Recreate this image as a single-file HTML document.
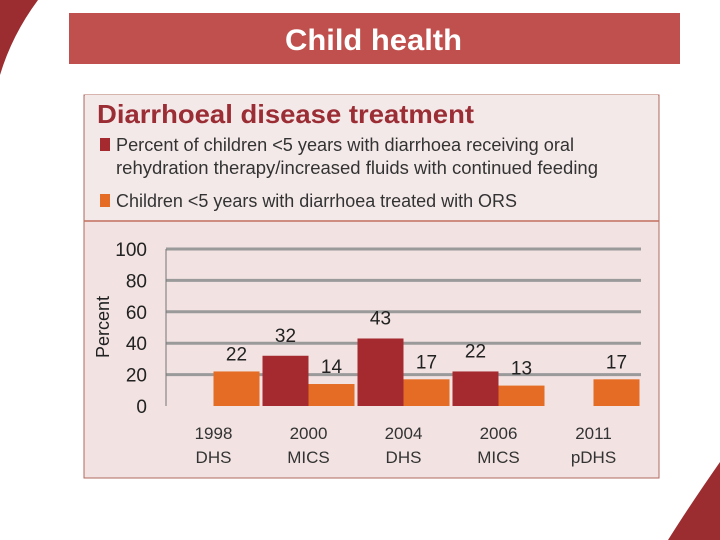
<!DOCTYPE html>
<html><head><meta charset="utf-8"><style>
body{margin:0;width:720px;height:540px;overflow:hidden;background:#fff;font-family:"Liberation Sans",sans-serif;}
svg{display:block}
</style></head><body>
<svg width="720" height="540" viewBox="0 0 720 540">
<path d="M0,0 L38,0 Q12,35 0,75 Z" fill="#9b2d30"/>
<path d="M720,462 Q690,505 668,540 L720,540 Z" fill="#9b2d30"/>
<rect x="69" y="13" width="611" height="51" fill="#c0504d"/>
<text x="285" y="50" textLength="177" lengthAdjust="spacingAndGlyphs" font-size="30" font-weight="bold" fill="#fff">Child health</text>
<rect x="84" y="95" width="575" height="383" fill="#f2e2e2" stroke="#b06a5e" stroke-width="1"/>
<rect x="85" y="95" width="573" height="126" fill="#f4e9e9"/>
<line x1="84" y1="221" x2="659" y2="221" stroke="#c26e5e" stroke-width="1.5"/>
<text x="97" y="123" textLength="377" lengthAdjust="spacingAndGlyphs" font-size="26" font-weight="bold" fill="#9b2d35">Diarrhoeal disease treatment</text>
<rect x="100" y="138" width="10" height="13" fill="#a52a2f"/>
<text x="116" y="151" textLength="458" lengthAdjust="spacingAndGlyphs" font-size="18" fill="#333">Percent of children &lt;5 years with diarrhoea receiving oral</text>
<text x="116" y="174" textLength="482" lengthAdjust="spacingAndGlyphs" font-size="18" fill="#333">rehydration therapy/increased fluids with continued feeding</text>
<rect x="100" y="194" width="10" height="13" fill="#e46c24"/>
<text x="116" y="207" textLength="401" lengthAdjust="spacingAndGlyphs" font-size="18" fill="#333">Children &lt;5 years with diarrhoea treated with ORS</text>
<g id="plot"></g>
</svg>
<script>
const categories=["1998|DHS","2000|MICS","2004|DHS","2006|MICS","2011|pDHS"];
const ortValues=[null,32,43,22,null];
const orsValues=[22,14,17,13,17];
const yTicks=[0,20,40,60,80,100];
const NS="http://www.w3.org/2000/svg";
const g=document.getElementById("plot");
const x0=166,band=95,yZero=406,yTop=249;
const yS=v=>yZero-(v/100)*(yZero-yTop);
const xC=i=>x0+band*(i+0.5);
function mk(t,a,txt){const e=document.createElementNS(NS,t);for(const k in a)e.setAttribute(k,a[k]);if(txt!=null)e.textContent=txt;g.appendChild(e);return e;}
yTicks.forEach(v=>{
 if(v>0){const l=mk("line",{x1:x0,x2:641,y1:yS(v),y2:yS(v),stroke:"#9a9a9a","stroke-width":3});
 
 }
 const t=mk("text",{x:147,y:yS(v)+7,"text-anchor":"end","font-size":19,fill:"#222"},String(v));
 
 
});
const ax=mk("line",{x1:x0,x2:x0,y1:yTop,y2:yZero,stroke:"#777","stroke-width":1});


const yt=mk("text",{x:0,y:0,transform:"translate(109,327) rotate(-90)","text-anchor":"middle","font-size":18,fill:"#222"},"Percent");


categories.forEach((c,i)=>{
 const cx=xC(i),p=c.split("|");
 [[ortValues[i],cx-46,"#a52a2f","ort"],[orsValues[i],cx,"#e46c24","ors"]].forEach(([v,x,col,s])=>{
  if(v==null)return;
  const r=mk("rect",{x:x,y:yS(v),width:46,height:yZero-yS(v),fill:col});
  
  
  const t=mk("text",{x:x+23,y:yS(v)-(s==="ort"?14:11),"text-anchor":"middle","font-size":19,fill:"#222"},String(v));
  
  
 });
 const a=mk("text",{x:cx,y:439,"text-anchor":"middle","font-size":17,fill:"#333"},p[0]);
 
 
 const b=mk("text",{x:cx,y:463,"text-anchor":"middle","font-size":17,fill:"#333"},p[1]);
 
 
});
</script>
</body></html>
